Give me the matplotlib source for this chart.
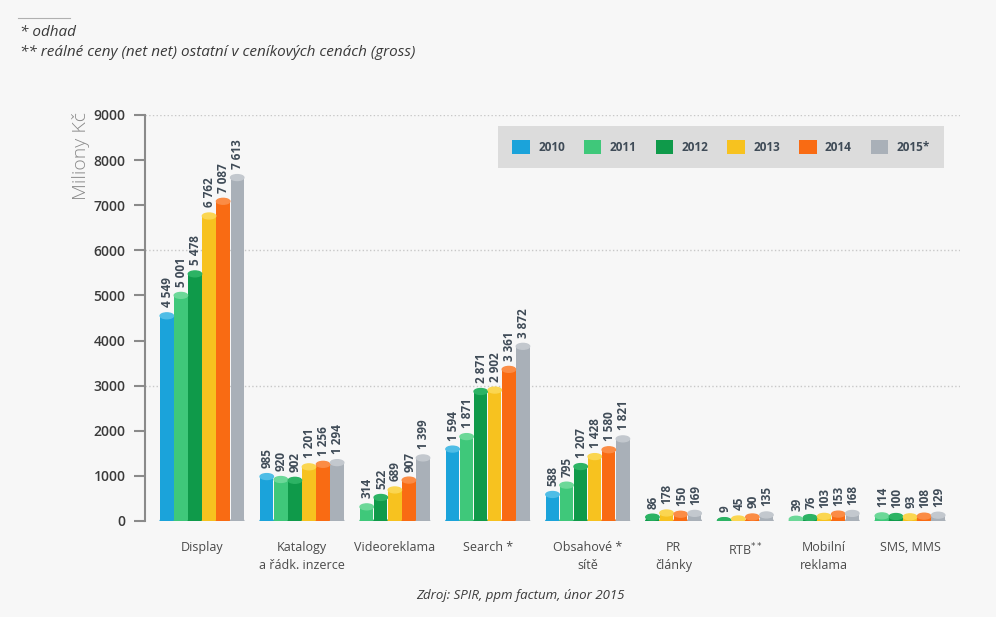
import numpy as np
import matplotlib.pyplot as plt
from matplotlib.patches import Ellipse, Patch

plt.rcParams['font.family'] = ['Open Sans', 'DejaVu Sans']

# data (Miliony Kč), None = no bar
categories = ['Display', 'Katalogy\na řádk. inzerce', 'Videoreklama', 'Search *',
              'Obsahové *\nsítě', 'PR\nčlánky', 'RTB$^{**}$', 'Mobilní\nreklama', 'SMS, MMS']
years = ['2010', '2011', '2012', '2013', '2014', '2015*']
v2010 = [4549, 985, None, 1594, 588, None, None, None, None]
v2011 = [5001, 920, 314, 1871, 795, None, None, 39, 114]
v2012 = [5478, 902, 522, 2871, 1207, 86, 9, 76, 100]
v2013 = [6762, 1201, 689, 2902, 1428, 178, 45, 103, 93]
v2014 = [7087, 1256, 907, 3361, 1580, 150, 90, 153, 108]
v2015 = [7613, 1294, 1399, 3872, 1821, 169, 135, 168, 129]
series = [v2010, v2011, v2012, v2013, v2014, v2015]
colors = ['#1ba3da', '#3fc87a', '#0f9a4a', '#f7c21f', '#f96b13', '#a9b0b8']
caps = ['#4fbde6', '#6cd898', '#2cb364', '#fbd650', '#fb8c45', '#c3c8ce']

fig = plt.figure(figsize=(9.96, 6.17), dpi=100)
fig.patch.set_facecolor('#f7f7f7')
ax = fig.add_axes([145 / 996, 1 - 521 / 617, 815 / 996, 406 / 617])
ax.set_facecolor('#f7f7f7')

width = 0.95
gap = 1.1
cap_h = 130
pos = 0.0
centers = []
for i, cat in enumerate(categories):
    vals = [(k, s[i]) for k, s in enumerate(series) if s[i] is not None]
    start = pos
    for k, v in vals:
        x = pos + 0.5
        ax.bar(x, v, width=width, color=colors[k], zorder=3)
        ax.add_patch(Ellipse((x, 0), width, cap_h, color=colors[k], zorder=3))
        ax.add_patch(Ellipse((x, v), width, cap_h, color=caps[k], zorder=4))
        ax.text(x + 0.05, v + 190, f"{v:,}".replace(',', ' '), rotation=90,
                ha='center', va='bottom', fontsize=8.5, fontweight='bold',
                color='#3f4b57', zorder=5)
        pos += 1
    centers.append((start + pos) / 2)
    pos += gap
last = pos - gap

ax.set_xlim(-1.05, last + 1.05)
ax.set_ylim(0, 9000)

for y in [3000, 6000, 9000]:
    ax.axhline(y, color='#c8c8c8', linestyle=':', linewidth=1, zorder=1)

ax.set_yticks(range(0, 9001, 1000))
ax.set_yticklabels([str(t) for t in range(0, 9001, 1000)])
ax.tick_params(axis='y', length=8, width=1.5, color='#8a8a8a', labelsize=10,
               labelcolor='#3a3a3a', pad=6)
for t in ax.get_yticklabels():
    t.set_fontweight('semibold')
ax.set_xticks([])
for s in ['top', 'right', 'bottom']:
    ax.spines[s].set_visible(False)
ax.spines['left'].set_color('#8a8a8a')
ax.spines['left'].set_linewidth(1.5)
ax.spines['left'].set_bounds(0, 9000)

ax.set_ylabel('Miliony Kč', fontsize=14, color='#8a8a8a', fontweight='light')
ax.yaxis.set_label_coords(-0.068, 0.9)

for c, cat in zip(centers, categories):
    ax.text(c, -450, cat, ha='center', va='top', fontsize=9, color='#4a4a4a',
            linespacing=1.5)

handles = [Patch(facecolor=c, edgecolor='none') for c in colors]
leg = fig.legend(handles, years, ncol=6, loc='center', bbox_to_anchor=(721 / 996, 1 - 147 / 617),
                 frameon=True, fancybox=False, handlelength=1.5, handleheight=1.5,
                 handletextpad=0.7, columnspacing=1.6, borderpad=1.2,
                 prop={'weight': 'bold', 'size': 8.5})
leg.get_frame().set_facecolor('#dcdcdc')
leg.get_frame().set_edgecolor('none')
leg.get_frame().set_alpha(1)
for t in leg.get_texts():
    t.set_color('#3f4b57')

fig.add_artist(plt.Line2D([18 / 996, 70 / 996], [1 - 18 / 617, 1 - 18 / 617],
                          color='#b0b0b0', linewidth=0.8))
fig.text(20 / 996, 1 - 33 / 617, '* odhad', fontsize=11, style='italic',
         color='#3a3a3a', va='center')
fig.text(20 / 996, 1 - 53 / 617, '** reálné ceny (net net) ostatní v ceníkových cenách (gross)',
         fontsize=11, style='italic', color='#3a3a3a', va='center')
fig.text(520 / 996, 1 - 595 / 617, 'Zdroj: SPIR, ppm factum, únor 2015', fontsize=9.5,
         style='italic', color='#3a3a3a', ha='center', va='center')

fig.savefig('out.png', dpi=100, facecolor=fig.get_facecolor())
